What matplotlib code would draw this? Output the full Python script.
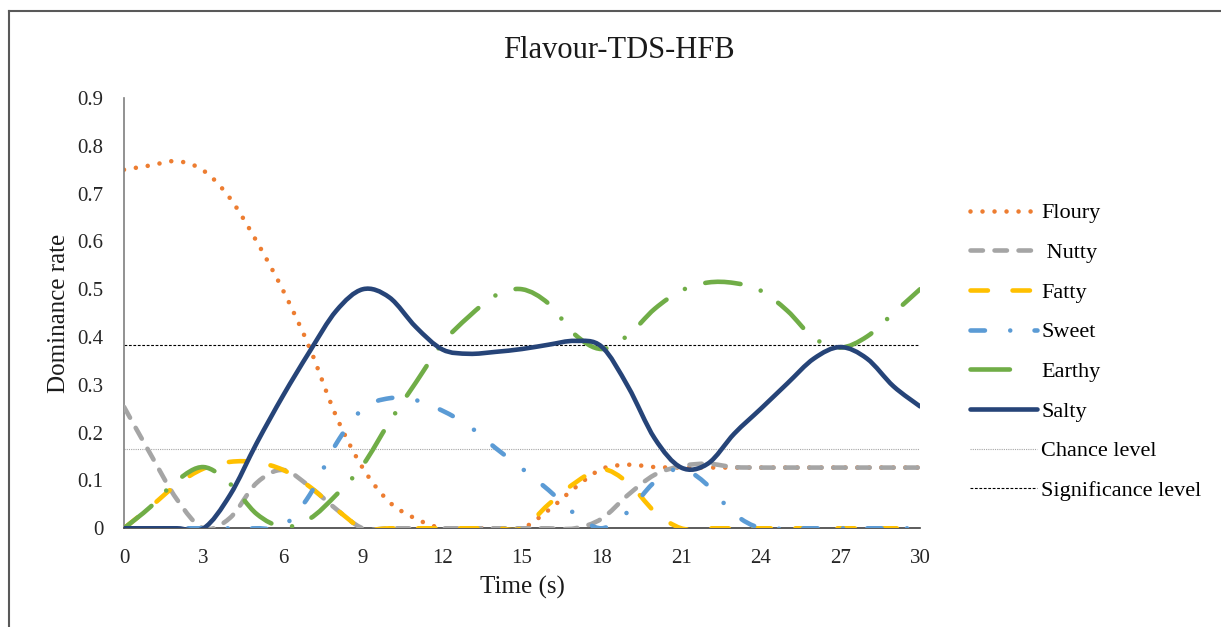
import numpy as np
import matplotlib
matplotlib.use("Agg")
import matplotlib.pyplot as plt
from matplotlib.path import Path
from matplotlib.patches import PathPatch
from matplotlib.lines import Line2D

plt.rcParams['font.family'] = ['Liberation Serif', 'DejaVu Serif']

# dominance rates, one value per second
time = list(range(31))
floury = [0.750, 0.759, 0.768, 0.748, 0.690, 0.600, 0.497, 0.377, 0.234, 0.126,
          0.055, 0.020, 0.0, 0.0, 0.0, 0.0, 0.038, 0.085, 0.124, 0.133,
          0.128, 0.127, 0.127, 0.127, 0.127, 0.127, 0.127, 0.127, 0.127, 0.127, 0.127]
nutty = [0.254, 0.155, 0.060, 0.0, 0.022, 0.095, 0.122, 0.087, 0.040, 0.0,
         0.0, 0.0, 0.0, 0.0, 0.0, 0.0, 0.0, 0.0, 0.020, 0.070,
         0.112, 0.130, 0.135, 0.128, 0.127, 0.127, 0.127, 0.127, 0.127, 0.127, 0.127]
fatty = [0.0, 0.045, 0.092, 0.125, 0.139, 0.138, 0.122, 0.087, 0.040, 0.0,
         0.0, 0.0, 0.0, 0.0, 0.0, 0.0, 0.050, 0.095, 0.124, 0.095,
         0.035, 0.0, 0.0, 0.0, 0.0, 0.0, 0.0, 0.0, 0.0, 0.0, 0.0]
sweet = [0.0, 0.0, 0.0, 0.0, 0.0, 0.0, 0.005, 0.070, 0.177, 0.250,
         0.272, 0.268, 0.246, 0.214, 0.168, 0.125, 0.080, 0.030, 0.0, 0.035,
         0.097, 0.125, 0.090, 0.030, 0.0, 0.0, 0.0, 0.0, 0.0, 0.0, 0.0]
earthy = [0.0, 0.045, 0.100, 0.128, 0.093, 0.030, 0.003, 0.020, 0.070, 0.132,
          0.222, 0.305, 0.387, 0.443, 0.487, 0.500, 0.470, 0.405, 0.375, 0.404,
          0.459, 0.497, 0.514, 0.513, 0.497, 0.455, 0.398, 0.378, 0.401, 0.450, 0.500]
salty = [0.0, 0.0, 0.0, 0.0, 0.070, 0.178, 0.278, 0.370, 0.455, 0.500,
         0.483, 0.421, 0.374, 0.365, 0.369, 0.375, 0.384, 0.392, 0.380, 0.296,
         0.188, 0.127, 0.135, 0.198, 0.250, 0.303, 0.355, 0.379, 0.355, 0.297, 0.255]
chance_level = 1 / 6
significance_level = 0.383

labels = ['Floury', ' Nutty', 'Fatty', 'Sweet', 'Earthy', 'Salty']
series = [floury, nutty, fatty, sweet, earthy, salty]
colors = ['#ED7D31', '#A5A5A5', '#FFC000', '#5B9BD5', '#70AD47', '#264478']
LW = 3.3
styles = [(0, (0.001, 2.62)),
          (0, (2.71, 2.53)),
          (0, (3.8, 5.37)),
          (0, (3.15, 5.52, 0.001, 5.3)),
          (0, (7.73, 4.65, 0.001, 4.65)),
          'solid']
legend_styles = styles[:4] + [(0, (8.6, 20))] + ['solid']


def smooth_path(xs, ys):
    # excel-like smoothed line: cubic bezier through every point
    pts = np.column_stack([xs, ys]).astype(float)
    ext = np.vstack([pts[0], pts, pts[-1]])
    verts = [pts[0]]
    codes = [Path.MOVETO]
    for i in range(len(pts) - 1):
        p0, p1, p2, p3 = ext[i], ext[i + 1], ext[i + 2], ext[i + 3]
        verts += [p1 + (p2 - p0) / 6, p2 - (p3 - p1) / 6, p2]
        codes += [Path.CURVE4] * 3
    return Path(verts, codes)


fig = plt.figure(figsize=(12.21, 6.27), dpi=100)
ax = fig.add_axes([124 / 1221, 1 - 528.3 / 627, 796 / 1221, 430.3 / 627])

ax.axhline(chance_level, color='#A6A6A6', lw=0.8, linestyle=(0, (1, 1)), zorder=1)
ax.axhline(significance_level, color='black', lw=0.8, linestyle=(0, (2.5, 1.5)), zorder=1)

handles = []
for i in range(len(series)):
    patch = PathPatch(smooth_path(time, series[i]), fill=False, edgecolor=colors[i],
                      lw=LW, linestyle=styles[i], capstyle='round', joinstyle='round',
                      zorder=2 + i)
    ax.add_patch(patch)
    handles.append(Line2D([], [], color=colors[i], lw=LW, linestyle=legend_styles[i],
                          solid_capstyle='round', dash_capstyle='round'))
handles.append(Line2D([], [], color='#A6A6A6', lw=0.8, linestyle=(0, (1, 1))))
handles.append(Line2D([], [], color='black', lw=0.8, linestyle=(0, (2.5, 1.5))))

ax.set_xlim(0, 30)
ax.set_ylim(0, 0.9)
ax.set_xticks(np.arange(0, 31, 3))
ax.set_yticks(np.arange(0, 0.91, 0.1))
ax.set_yticklabels(['0'] + ['%.1f' % v for v in np.arange(0.1, 0.91, 0.1)])
ax.tick_params(length=0, labelsize=15, colors='#262626')
ax.tick_params(axis='y', pad=15)
ax.tick_params(axis='x', pad=15)
for side in ['top', 'right']:
    ax.spines[side].set_visible(False)
ax.spines['left'].set_color('#7F7F7F')
ax.spines['bottom'].set_color('#404040')
ax.spines['left'].set_linewidth(1.2)
ax.spines['bottom'].set_linewidth(1.2)

ax.set_xlabel('Time (s)', fontsize=18, color='#1a1a1a')
ax.set_ylabel('Dominance rate', fontsize=18, color='#1a1a1a')
ax.xaxis.set_label_coords(0.5, -0.11)
ax.yaxis.set_label_coords(-0.068, 0.5)

fig.text(619 / 1221, 1 - 50 / 627, 'Flavour-TDS-HFB', fontsize=22,
         ha='center', va='center', color='#1a1a1a')

fig.legend(handles, labels + ['Chance level', 'Significance level'],
           loc='center left', bbox_to_anchor=(970 / 1221, 1 - 352 / 627),
           frameon=False, fontsize=16, handlelength=3.0, handletextpad=0.2,
           labelspacing=0.86, borderpad=0, borderaxespad=0)

# outer border of the chart area
fig.add_artist(Line2D([8.5 / 1221, 8.5 / 1221], [0, 1 - 11 / 627],
                      transform=fig.transFigure, color='#595959', lw=1.5))
fig.add_artist(Line2D([8.5 / 1221, 1], [1 - 11 / 627, 1 - 11 / 627],
                      transform=fig.transFigure, color='#595959', lw=1.5))

fig.savefig('out.png', dpi=100)
